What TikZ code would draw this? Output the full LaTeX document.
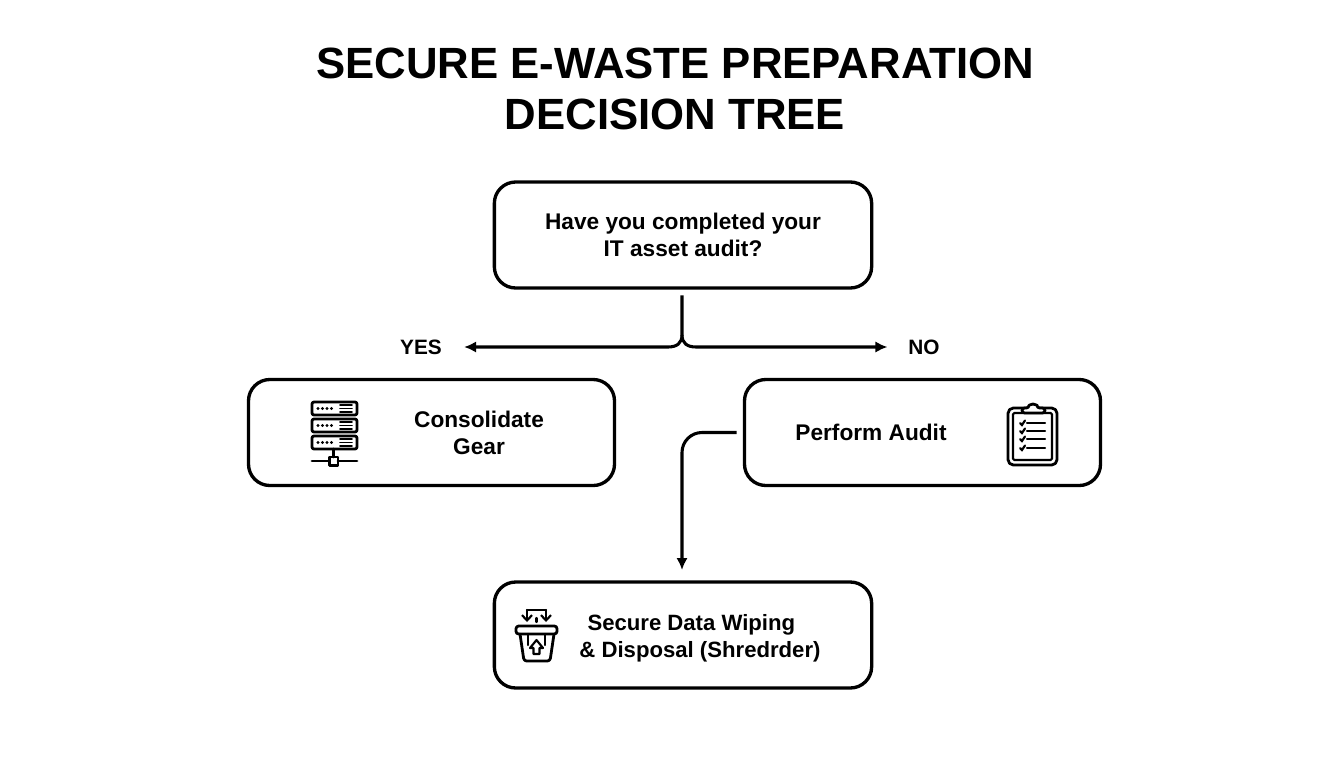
\documentclass[tikz,border=0pt]{standalone}
\usepackage{fontspec}
\setmainfont{Liberation Sans}
\usetikzlibrary{arrows.meta}
\tikzset{
  box/.style={draw, line width=2.5pt, rounded corners=16pt, outer sep=0pt, inner sep=0pt,
    minimum height=79.5pt, align=center, font=\fontsize{17}{20.3}\selectfont\bfseries},
  lab/.style={align=center, inner sep=0pt, font=\fontsize{17}{20.3}\selectfont\bfseries},
  side/.style={inner sep=0pt, font=\fontsize{15.6}{18}\selectfont\bfseries},
  branch/.style={line width=2.3pt, -{Latex[length=9pt,width=8.5pt]}},
  icon/.style={line width=2.1pt, line cap=round, line join=round},
  iconthin/.style={line width=1.6pt, line cap=round}
}
\begin{document}
\begin{tikzpicture}[x=0.75pt,y=-0.75pt]
    \useasboundingbox (0,0) rectangle (1344,768);
    \node (title) at (675,89) [align=center, font=\fontsize{32.8}{38.5}\selectfont\bfseries]
        {SECURE E-WASTE PREPARATION\\DECISION TREE};
    \node (ask) at (683,235) [box, minimum width=283pt] {Have you completed your\\IT asset audit?};
    \node (gear) at (431.5,432.5) [box, minimum width=274.5pt] {};
    \node (audit) at (922.5,432.5) [box, minimum width=267pt] {};
    \node (wipe) at (683,635) [box, minimum width=283pt] {};
    \node (gearlab) at (479,432.5) [lab] {Consolidate\\Gear};
    \node (auditlab) at (871,432) [lab] {Perform Audit};
    \node (wipelab) at (700,638) [lab, font=\fontsize{16.6}{20.3}\selectfont\bfseries]
        {Secure Data Wiping\hspace*{13pt}\\\& Disposal (Shredrder)};
    \node (yes) at (421,347) [side] {YES};
    \node (no) at (924,347) [side] {NO};
    % the fork under the question
    \coordinate (fork) at (682,335);
    \draw[branch, shorten >=16.5pt] ([xshift=-0.75pt,yshift=-5.5pt]ask.south) -- (fork)
        .. controls (682,343) and (677,347) .. (668,347) -- (yes.east);
    \draw[branch, shorten >=15.5pt] (fork)
        .. controls (682,343) and (687,347) .. (696,347) -- (no.west);
    \draw[branch, rounded corners=15pt, shorten <=6pt, shorten >=9pt]
        (audit.west) -| ([xshift=-0.75pt]wipe.north);
    % server rack
    \foreach \yt/\yb in {402/415, 419/432, 436/449} {
        \draw[icon, rounded corners=1.5pt] (312,\yt) rectangle (357,\yb);
        \foreach \xd in {318,322.5,327,331.5}
            \fill (\xd,{(\yt+\yb)/2}) circle (1.3pt);
        \foreach \yl in {-3.5,0,3.5}
            \draw[iconthin, line width=1.3pt] (340,{(\yt+\yb)/2+\yl}) -- (352,{(\yt+\yb)/2+\yl});
    }
    \draw[icon] (333.5,449) -- (333.5,457);
    \draw[icon] (312,461) -- (329,461);
    \draw[icon] (338,461) -- (357,461);
    \draw[icon] (329.5,457) rectangle (338,465.5);
    % clipboard
    \draw[icon, rounded corners=4pt] (1008,408) rectangle (1057,465);
    \draw[iconthin, rounded corners=1pt] (1013,413) rectangle (1052,460);
    \draw[icon, fill=white, rounded corners=2pt] (1022,413) -- (1022,408) -- (1029,408)
        arc[start angle=180, end angle=360, radius=4] -- (1045,408) -- (1045,413) -- cycle;
    \foreach \yl in {423,431,439,448} {
        \draw[iconthin] (1027,\yl) -- (1045,\yl);
        \draw[iconthin] (1020,\yl) -- (1022,{\yl+2}) -- (1025,{\yl-2.5});
    }
    % shredder
    \draw[icon, rounded corners=2pt] (516,626) rectangle (557,634);
    \draw[icon, rounded corners=2pt] (520,634) -- (524,661) -- (550,661) -- (554,634);
    \draw[iconthin] (528,634) -- (528,645) (545,634) -- (545,645);
    \draw[iconthin, -{Straight Barb[length=4pt,width=7.5pt]}] (527,610) -- (527,622);
    \draw[iconthin, -{Straight Barb[length=4pt,width=7.5pt]}] (546,610) -- (546,622);
    \draw[iconthin] (527,610) -- (546,610);
    \draw[iconthin] (536.5,618) -- (536.5,622);
    \draw[iconthin, line join=round, fill=white] (533.5,654) -- (533.5,648) -- (530,648) -- (536.5,640)
        -- (543,648) -- (539.5,648) -- (539.5,654) -- cycle;
\end{tikzpicture}
\end{document}
